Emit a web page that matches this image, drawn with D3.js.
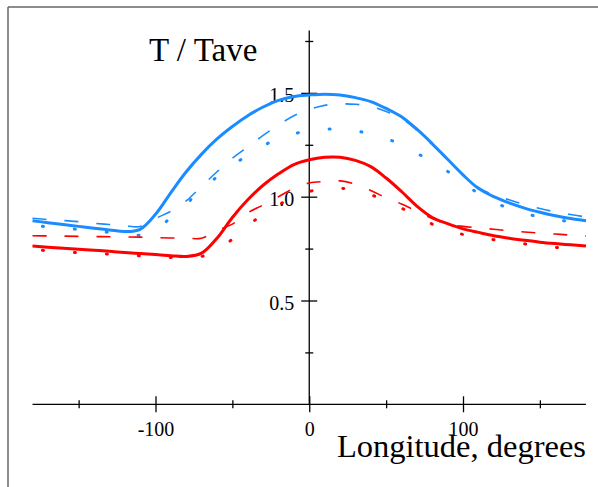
<!DOCTYPE html>
<html>
<head>
<meta charset="utf-8">
<script src="https://cdn.jsdelivr.net/npm/d3@7"></script>
<style>
  body { margin: 0; background: #fff; }
  text { font-family: "Liberation Serif", "Times New Roman", serif; fill: #000; }
</style>
</head>
<body>
<div id="graph"></div>
<script>
// longitude grid shared by all curves
var lon = [-180,-170,-160,-150,-140,-130,-120,-110,-100,-90,-80,-70,-60,-50,-40,-30,-20,-10,
           0,10,20,30,40,50,60,70,80,90,100,110,120,130,140,150,160,170,180];

var blueSolid  = [0.884,0.875,0.866,0.857,0.848,0.840,0.832,0.843,0.915,1.020,1.120,1.205,1.278,1.338,1.390,1.432,1.464,1.483,
                  1.490,1.494,1.490,1.477,1.458,1.425,1.385,1.325,1.255,1.180,1.105,1.040,1.000,0.970,0.945,0.925,0.908,0.895,0.884];
var blueDashed = [0.896,0.890,0.885,0.880,0.872,0.866,0.860,0.856,0.895,0.930,0.980,1.050,1.120,1.185,1.240,1.295,1.345,1.390,
                  1.420,1.440,1.447,1.445,1.435,1.410,1.377,1.320,1.250,1.178,1.105,1.045,1.008,0.985,0.962,0.943,0.927,0.914,0.902];
var blueDotted = [0.862,0.855,0.849,0.842,0.835,0.828,0.821,0.815,0.840,0.900,0.965,1.035,1.095,1.150,1.200,1.245,1.280,1.303,
                  1.318,1.325,1.324,1.318,1.300,1.280,1.250,1.210,1.165,1.122,1.070,1.015,0.975,0.943,0.920,0.902,0.890,0.880,0.874];
var redSolid   = [0.762,0.757,0.752,0.747,0.742,0.737,0.731,0.726,0.721,0.716,0.712,0.728,0.800,0.900,0.985,1.055,1.110,1.155,
                  1.178,1.190,1.190,1.175,1.145,1.090,1.025,0.955,0.900,0.870,0.845,0.828,0.812,0.800,0.790,0.781,0.774,0.768,0.762];
var redDashed  = [0.812,0.811,0.810,0.809,0.808,0.807,0.806,0.805,0.803,0.801,0.800,0.800,0.837,0.868,0.922,0.960,1.000,1.040,
                  1.066,1.073,1.076,1.060,1.030,0.995,0.965,0.930,0.895,0.868,0.857,0.850,0.843,0.836,0.830,0.825,0.820,0.815,0.811];
var redDotted  = [0.745,0.740,0.735,0.730,0.727,0.723,0.719,0.715,0.711,0.707,0.705,0.712,0.745,0.795,0.860,0.915,0.960,1.000,
                  1.025,1.037,1.040,1.035,1.010,0.980,0.945,0.905,0.868,0.838,0.818,0.805,0.793,0.783,0.773,0.764,0.756,0.749,0.742];

var xTicks = [-150,-100,-50,0,50,100,150];
var xLabels = [-100,0,100];
var yTicks = [0.25,0.5,0.75,1.0,1.25,1.5,1.75];
var yLabels = [0.5,1.0,1.5];

var blue = "#1a8cff", red = "#ff0000";

var vis = d3.select("#graph")
            .append("svg")
            .attr("width", 598).attr("height", 487);

// frame (only top and left edges show)
vis.append("line").attr("x1", 8).attr("y1", 7).attr("x2", 598).attr("y2", 7)
   .style("stroke", "#666").style("stroke-width", 1.5);
vis.append("line").attr("x1", 8).attr("y1", 7).attr("x2", 8).attr("y2", 487)
   .style("stroke", "#666").style("stroke-width", 1.5);

var x = d3.scaleLinear().domain([-180, 180]).range([32.5, 586]);
var y = d3.scaleLinear().domain([0, 1.8]).range([404.3, 30.6]);

// x axis, ticks through the line
var xg = vis.append("g").attr("transform", "translate(0," + y(0) + ")")
   .call(d3.axisBottom(x).tickValues(xTicks).tickSizeOuter(0)
         .tickFormat(function(d) { return xLabels.indexOf(d) >= 0 ? d3.format("d")(d).replace("−", "-") : ""; }));
xg.select(".domain").remove();
xg.append("line").attr("x1", x(-180)).attr("x2", x(180))
  .style("stroke", "#000").style("stroke-width", 1.3);
xg.selectAll(".tick line")
  .attr("y1", function(d) { return xLabels.indexOf(d) >= 0 ? -8 : -4; })
  .attr("y2", function(d) { return xLabels.indexOf(d) >= 0 ? 8 : 4; })
  .style("stroke", "#000").style("stroke-width", 1.3);
xg.selectAll(".tick text").attr("y", 32).attr("dy", null)
  .style("font-size", "20px").style("font-family", "Liberation Serif").attr("fill", "#000");

// y axis at longitude 0
var yg = vis.append("g").attr("transform", "translate(" + x(0) + ",0)")
   .call(d3.axisLeft(y).tickValues(yTicks).tickSizeOuter(0)
         .tickFormat(function(d) { return yLabels.indexOf(d) >= 0 ? d3.format(".1f")(d) : ""; }));
yg.select(".domain").remove();
yg.append("line").attr("y1", y(0)).attr("y2", y(1.8))
  .style("stroke", "#000").style("stroke-width", 1.3);
yg.selectAll(".tick line")
  .attr("x1", function(d) { return yLabels.indexOf(d) >= 0 ? -8 : -4; })
  .attr("x2", function(d) { return yLabels.indexOf(d) >= 0 ? 8 : 4; })
  .style("stroke", "#000").style("stroke-width", 1.3);
yg.selectAll(".tick text").attr("x", -15).attr("dy", "9px").attr("dominant-baseline", null)
  .style("font-size", "20px").style("font-family", "Liberation Serif").attr("fill", "#000");

// curves
var series = [
  {v: blueSolid,  c: blue, w: 3,   dash: null},
  {v: blueDashed, c: blue, w: 1.6, dash: "14 18"},
  {v: blueDotted, c: blue, w: 3,   dash: "1 31"},
  {v: redSolid,   c: red,  w: 3,   dash: null},
  {v: redDashed,  c: red,  w: 1.6, dash: "14 18"},
  {v: redDotted,  c: red,  w: 3,   dash: "1 31"}
];

var line = d3.line()
   .x(function(d) { return x(d[0]); })
   .y(function(d) { return y(d[1]); })
   .curve(d3.curveCatmullRom.alpha(0.5));

vis.selectAll(".curve")
   .data(series)
   .enter()
   .append("path")
   .attr("class", "curve")
   .attr("d", function(s) { return line(d3.zip(lon, s.v)); })
   .style("fill", "none")
   .style("stroke", function(s) { return s.c; })
   .style("stroke-width", function(s) { return s.w; })
   .style("stroke-dasharray", function(s) { return s.dash; })
   .style("stroke-dashoffset", function(s) { return s.dash && s.w > 2 ? -10 : 0; })
   .style("stroke-linecap", function(s) { return s.dash && s.w > 2 ? "round" : "butt"; });

// titles
vis.append("text").attr("x", 149).attr("y", 61)
   .style("font-size", "33px").text("T / Tave");
vis.append("text").attr("x", 586).attr("y", 457).attr("text-anchor", "end")
   .style("font-size", "32.5px").text("Longitude, degrees");
</script>
</body>
</html>
